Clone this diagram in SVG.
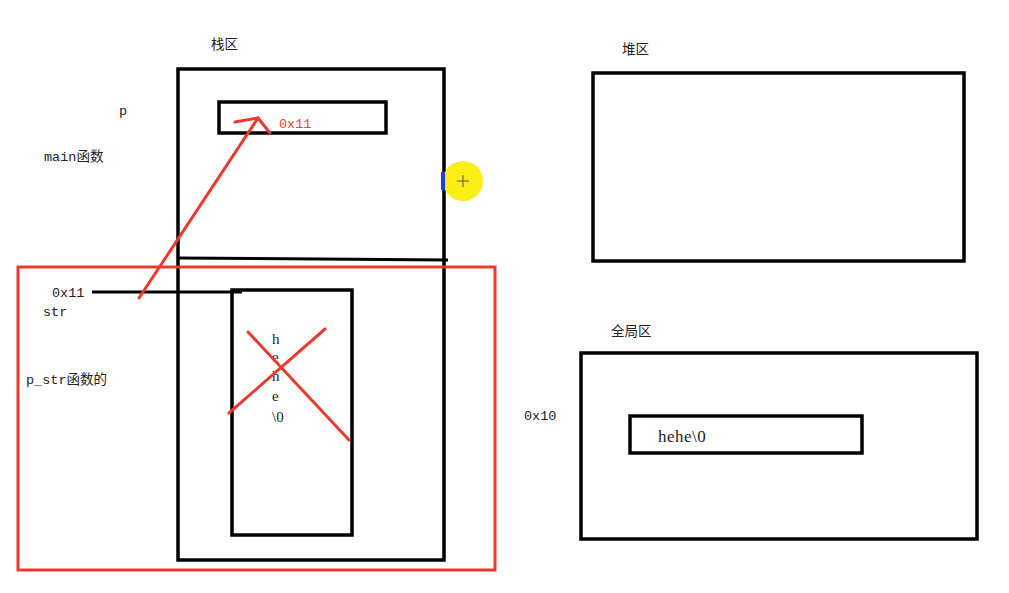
<svg xmlns="http://www.w3.org/2000/svg" width="1009" height="593" viewBox="0 0 1009 593">
<style>
.box{fill:none;stroke:#000;stroke-width:3.5}
.red{fill:none;stroke:#ea3a2e;stroke-width:3;stroke-linecap:round}
.t{font-family:"Liberation Mono","Noto Sans CJK SC",monospace;font-size:13.5px;fill:#222}
.s{font-family:"Liberation Serif","Noto Sans CJK SC",serif;font-size:15px;fill:#222}
</style>
<rect width="1009" height="593" fill="#fff"/>
<g id="stack">
<rect class="box" x="178" y="69" width="266" height="491"/>
<path d="M178 258 L448 260" stroke="#000" stroke-width="3" fill="none"/>
<text class="t" x="211" y="49" font-size="15">栈区</text>
</g>
<g id="p-box">
<rect class="box" x="219" y="102" width="167" height="31"/>
<text class="t" x="279" y="128" style="fill:#e8453a">0x11</text>
</g>
<g id="str-box">
<rect class="box" x="232" y="290" width="120" height="245"/>
<text class="s" x="272" y="344">h</text>
<text class="s" x="272" y="362">e</text>
<text class="s" x="272" y="381">h</text>
<text class="s" x="272" y="401">e</text>
<text class="s" x="272" y="422">\0</text>
</g>
<g id="pstr-frame">
<rect x="18" y="267" width="477" height="303" fill="none" stroke="#ea3a2e" stroke-width="3"/>
</g>
<g id="heap">
<rect class="box" x="593" y="73" width="371" height="188"/>
<text class="t" x="622" y="54" font-size="15">堆区</text>
</g>
<g id="global">
<rect class="box" x="581" y="353" width="396" height="186"/>
<text class="t" x="611" y="336" font-size="15">全局区</text>
<text class="t" x="524" y="420">0x10</text>
</g>
<g id="hehe-box">
<rect class="box" x="630" y="416" width="232" height="37"/>
<text class="s" x="658" y="442" style="font-size:17px;letter-spacing:0.5px">hehe\0</text>
</g>
<g id="labels">
<text class="t" x="119" y="115">p</text>
<text class="t" x="44" y="161">main函数</text>
<text class="t" x="52" y="297">0x11</text>
<text class="t" x="43" y="316">str</text>
<text class="t" x="26" y="384">p_str函数的</text>
</g>
<g id="cursor">
<circle cx="463" cy="181" r="20" fill="#fbee14"/>
<rect x="441" y="172" width="4" height="18" fill="#2040e0"/>
<path d="M457 181 H469 M463 175 V187" stroke="#555" stroke-width="1"/>
</g>
<g id="connectors">
<path d="M92 292 L242 292" stroke="#000" stroke-width="3" fill="none"/>
<path class="red" d="M139 298 L258 118"/>
<path class="red" d="M235 122 L258 118 L270 133"/>
<path class="red" d="M248 332 L349 440"/>
<path class="red" d="M229 413 L325 329"/>
</g>
</svg>
